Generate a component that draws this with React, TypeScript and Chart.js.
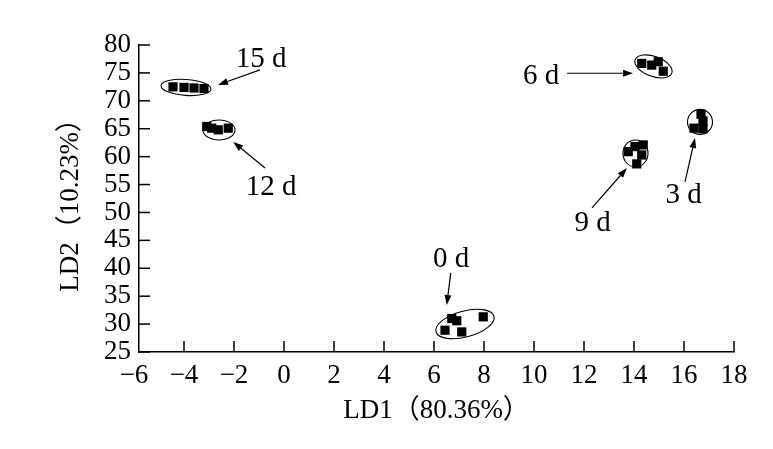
import React, { useEffect, useRef } from 'react';
import { Chart, registerables } from 'chart.js';

Chart.register(...registerables);

// ---- data ----
const groupNames = ['0 d', '3 d', '6 d', '9 d', '12 d', '15 d'];
const ld1_0d = [6.71, 6.91, 7.97, 6.44, 7.11];
const ld2_0d = [31.0, 30.6, 31.3, 28.9, 28.6];
const ld1_3d = [16.68, 16.76, 16.4, 16.76];
const ld2_3d = [67.6, 66.4, 65.1, 65.0];
const ld1_6d = [14.31, 14.71, 14.97, 15.17];
const ld2_6d = [76.7, 76.4, 77.0, 75.3];
const ld1_9d = [13.77, 14.04, 14.37, 14.31, 14.11];
const ld2_9d = [60.9, 61.8, 62.1, 60.3, 58.7];
const ld1_12d = [-3.09, -2.89, -2.63, -2.23];
const ld2_12d = [65.4, 65.1, 64.8, 65.1];
const ld1_15d = [-4.44, -4.0, -3.6, -3.2];
const ld2_15d = [72.5, 72.4, 72.3, 72.2];

const xTicks = [-6, -4, -2, 0, 2, 4, 6, 8, 10, 12, 14, 16, 18];
const yTicks = [25, 30, 35, 40, 45, 50, 55, 60, 65, 70, 75, 80];
const xTitle = 'LD1（80.36%）';
const yTitle = 'LD2（10.23%）';

// cluster ellipse centres (data units)
const ellipseCx = [7.24, 16.64, 14.78, 14.06, -2.6, -3.92];
const ellipseCy = [30.02, 66.22, 76.16, 60.57, 64.78, 72.4];
// label positions (data units)
const labelX = [6.68, 15.98, 10.28, 12.34, -0.52, -0.92];
const labelY = [42.03, 53.49, 74.82, 48.39, 54.93, 77.87];
// arrows start / end (data units)
const arrowX1 = [6.67, 16.04, 11.32, 12.32, -0.76, -0.96];
const arrowY1 = [39.16, 55.47, 74.94, 50.81, 57.97, 75.54];
const arrowX2 = [6.51, 16.44, 13.96, 13.72, -2.03, -2.64];
const arrowY2 = [33.42, 63.35, 74.94, 57.97, 62.63, 72.85];

// ---- styles (pixels) ----
const ellipseStyle = [
  { rx: 30, ry: 13, rot: -15 },
  { rx: 12.5, ry: 12.5, rot: 0 },
  { rx: 19.5, ry: 10, rot: 20 },
  { rx: 12.5, ry: 13.5, rot: 0 },
  { rx: 16, ry: 10, rot: 0 },
  { rx: 25, ry: 8, rot: 4 },
];

const FONT = "'Liberation Serif', 'Times New Roman', 'Noto Sans CJK SC', serif";

const seriesX = [ld1_0d, ld1_3d, ld1_6d, ld1_9d, ld1_12d, ld1_15d];
const seriesY = [ld2_0d, ld2_3d, ld2_6d, ld2_9d, ld2_12d, ld2_15d];

const fmt = (v: number) => (v < 0 ? '\u2212' + Math.abs(v) : String(v));

const annotPlugin = {
  id: 'annot',
  beforeDatasetsDraw(chart: any) {
    const { ctx, scales } = chart;
    const x = scales.x, y = scales.y;
    ctx.save();
    ctx.strokeStyle = '#000';
    ctx.lineWidth = 1.1;
    ellipseCx.forEach((cx, i) => {
      const s = ellipseStyle[i];
      ctx.beginPath();
      ctx.ellipse(x.getPixelForValue(cx), y.getPixelForValue(ellipseCy[i]), s.rx, s.ry, (s.rot * Math.PI) / 180, 0, Math.PI * 2);
      ctx.stroke();
    });
    ctx.restore();
  },
  afterDraw(chart: any) {
    const { ctx, scales, chartArea } = chart;
    const x = scales.x, y = scales.y;
    ctx.save();
    ctx.strokeStyle = '#000';
    ctx.fillStyle = '#000';
    // inward ticks
    ctx.lineWidth = 1.5;
    xTicks.forEach((v) => {
      const px = x.getPixelForValue(v);
      if (px < chartArea.left + 2) return;
      ctx.beginPath();
      ctx.moveTo(px, chartArea.bottom);
      ctx.lineTo(px, chartArea.bottom - 11);
      ctx.stroke();
    });
    yTicks.forEach((v) => {
      const py = y.getPixelForValue(v);
      ctx.beginPath();
      ctx.moveTo(chartArea.left, py);
      ctx.lineTo(chartArea.left + 11, py);
      ctx.stroke();
    });
    // arrows
    ctx.lineWidth = 1.2;
    arrowX1.forEach((ax, i) => {
      const x1 = x.getPixelForValue(ax), y1 = y.getPixelForValue(arrowY1[i]);
      const x2 = x.getPixelForValue(arrowX2[i]), y2 = y.getPixelForValue(arrowY2[i]);
      const ang = Math.atan2(y2 - y1, x2 - x1);
      const L = 10, W = 3.5;
      const bx = x2 - L * Math.cos(ang), by = y2 - L * Math.sin(ang);
      ctx.beginPath();
      ctx.moveTo(x1, y1);
      ctx.lineTo(bx, by);
      ctx.stroke();
      ctx.beginPath();
      ctx.moveTo(x2, y2);
      ctx.lineTo(bx + W * Math.sin(ang), by - W * Math.cos(ang));
      ctx.lineTo(bx - W * Math.sin(ang), by + W * Math.cos(ang));
      ctx.closePath();
      ctx.fill();
    });
    // labels
    ctx.font = `29px ${FONT}`;
    ctx.textAlign = 'center';
    ctx.textBaseline = 'alphabetic';
    groupNames.forEach((name, i) => {
      ctx.fillText(name, x.getPixelForValue(labelX[i]), y.getPixelForValue(labelY[i]) + 10);
    });
    ctx.restore();
  },
};

export default function App() {
  const ref = useRef<HTMLCanvasElement>(null);
  useEffect(() => {
    if (!ref.current) return;
    const chart = new Chart(ref.current, {
      type: 'scatter',
      data: {
        datasets: groupNames.map((name, i) => ({
          label: name,
          data: seriesX[i].map((v, j) => ({ x: v, y: seriesY[i][j] })),
          pointStyle: 'rect',
          pointRadius: 6.5,
          backgroundColor: '#000',
          borderColor: '#000',
          borderWidth: 0,
        })),
      },
      options: {
        responsive: false,
        animation: false,
        devicePixelRatio: 1,
        layout: { padding: { top: 45, right: 39, left: 0, bottom: 0 } },
        plugins: { legend: { display: false }, tooltip: { enabled: false } },
        scales: {
          x: {
            type: 'linear',
            min: -5.8,
            max: 18,
            afterBuildTicks: (s: any) => {
              s.ticks = xTicks.map((v) => ({ value: v }));
            },
            afterFit: (s: any) => {
              s.height = 97;
            },
            grid: { display: false, drawTicks: false },
            border: { display: true, color: '#000', width: 1.5 },
            ticks: {
              color: '#000',
              font: { family: FONT, size: 27 },
              padding: 8,
              maxRotation: 0,
              autoSkip: false,
              callback: (v: any) => fmt(Number(v)),
            },
            title: {
              display: true,
              text: xTitle,
              color: '#000',
              font: { family: FONT, size: 27, lineHeight: 1.2 },
              padding: { top: 0, bottom: 22 },
            },
          },
          y: {
            type: 'linear',
            min: 25,
            max: 80,
            afterBuildTicks: (s: any) => {
              s.ticks = yTicks.map((v) => ({ value: v }));
            },
            afterFit: (s: any) => {
              s.width = 139;
            },
            grid: { display: false, drawTicks: false },
            border: { display: true, color: '#000', width: 1.5 },
            ticks: {
              color: '#000',
              font: { family: FONT, size: 27 },
              padding: 8,
              autoSkip: false,
              callback: (v: any) => fmt(Number(v)),
            },
            title: {
              display: true,
              text: yTitle,
              color: '#000',
              font: { family: FONT, size: 27, lineHeight: 1.2 },
              padding: { top: 55, bottom: 0 },
            },
          },
        },
      },
      plugins: [annotPlugin],
    });
    return () => chart.destroy();
  }, []);
  return (
    <div style={{ position: 'absolute', left: 0, top: 0, width: 773, height: 449, background: '#fff' }}>
      <canvas ref={ref} width={773} height={449} style={{ display: 'block' }} />
    </div>
  );
}
